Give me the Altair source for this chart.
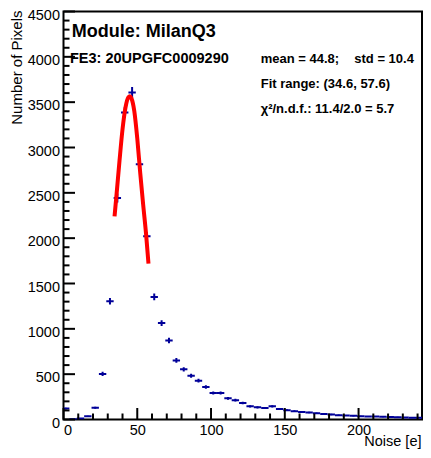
import altair as alt
import pandas as pd
import numpy as np

# ---- data ----
bin_centers = [1.5, 6.5, 11.5, 16.5, 21.5, 26.5, 31.5, 36.5, 41.5, 46.5,
               51.5, 56.5, 61.5, 66.5, 71.5, 76.5, 81.5, 86.5, 91.5, 96.5,
               101.5, 106.5, 111.5, 116.5, 121.5, 126.5, 131.5, 136.5, 141.5, 146.5,
               151.5, 156.5, 161.5, 166.5, 171.5, 176.5, 181.5, 186.5, 191.5, 196.5,
               201.5, 206.5, 211.5, 216.5, 221.5, 226.5, 231.5, 236.5, 241.5]
counts = [120, 3, 11, 36, 130, 503, 1305, 2444, 3386, 3606,
          2816, 2020, 1352, 1063, 871, 652, 553, 483, 428, 358,
          292, 292, 233, 213, 182, 145, 134, 127, 145, 117,
          103, 92, 84, 77, 69, 62, 55, 47, 44, 40,
          36, 33, 32, 29, 28, 25, 22, 20, 20]
bin_half_width = 2.5

fit_x = [34.6, 36, 38, 40, 42, 44, 45, 46, 48, 50, 52, 54, 56, 57.6]
fit_y = [2240, 2490, 2860, 3200, 3440, 3555, 3565, 3545, 3400, 3100, 2720, 2370, 2040, 1720]

x_major = [0, 50, 100, 150, 200]
x_minor = [10, 20, 30, 40, 60, 70, 80, 90, 110, 120, 130, 140, 160, 170, 180, 190,
           210, 220, 230, 240]
y_major = [0, 500, 1000, 1500, 2000, 2500, 3000, 3500, 4000, 4500]
y_minor = [100, 200, 300, 400, 600, 700, 800, 900, 1100, 1200, 1300, 1400,
           1600, 1700, 1800, 1900, 2100, 2200, 2300, 2400, 2600, 2700, 2800, 2900,
           3100, 3200, 3300, 3400, 3600, 3700, 3800, 3900, 4100, 4200, 4300, 4400]

X_DOMAIN = [0, 243]
Y_DOMAIN = [0, 4500]

W, H = 358.5, 408
FONT = "Liberation Sans"
BLUE = "#000099"

df = pd.DataFrame({"x": bin_centers, "n": counts})
df["xlo"] = np.maximum(df["x"] - bin_half_width, X_DOMAIN[0])
df["xhi"] = np.minimum(df["x"] + bin_half_width, X_DOMAIN[1])
err = np.sqrt(df["n"])
df["lo"] = df["n"] - err
df["hi"] = df["n"] + err

xs = alt.Scale(domain=X_DOMAIN, nice=False, zero=False)
ys = alt.Scale(domain=Y_DOMAIN, nice=False, zero=False)

# base layer carrying the axes (labels only; ticks drawn inward below)
base = alt.Chart(df).mark_rule(color=BLUE, strokeWidth=2, clip=True).encode(
    x=alt.X("xlo:Q", scale=xs,
            axis=alt.Axis(values=x_major, ticks=False, domain=False, grid=False,
                          labelFont=FONT, labelFontSize=14.5, labelColor="black",
                          labelPadding=4, title=None, format="d")),
    x2="xhi:Q",
    y=alt.Y("n:Q", scale=ys,
            axis=alt.Axis(values=y_major, ticks=False, domain=False, grid=False,
                          labelFont=FONT, labelFontSize=14.5, labelColor="black",
                          labelPadding=4, labelOffset=3.5, title=None, format="d")),
)

vbars = alt.Chart(df).mark_rule(color=BLUE, strokeWidth=2, clip=True).encode(
    x=alt.X("x:Q", scale=xs, axis=None),
    y=alt.Y("lo:Q", scale=ys, axis=None),
    y2="hi:Q",
)

fit = alt.Chart(pd.DataFrame({"x": fit_x, "y": fit_y})).mark_line(
    color="#ff0000", strokeWidth=4, strokeCap="butt", interpolate="monotone"
).encode(
    x=alt.X("x:Q", scale=xs, axis=None),
    y=alt.Y("y:Q", scale=ys, axis=None),
)

def xticks(vals, length):
    return alt.Chart(pd.DataFrame({"t": vals})).mark_rule(color="black", strokeWidth=2).encode(
        x=alt.X("t:Q", scale=xs, axis=None),
        y=alt.value(H),
        y2=alt.value(H - length),
    )

def yticks(vals, length):
    return alt.Chart(pd.DataFrame({"t": vals})).mark_rule(color="black", strokeWidth=2).encode(
        y=alt.Y("t:Q", scale=ys, axis=None),
        x=alt.value(0),
        x2=alt.value(length),
    )

def label(txt, px, py, size, bold=False, align="left", angle=0):
    kw = dict(font=FONT, fontSize=size, fontWeight="bold" if bold else "normal",
              color="black", align=align, baseline="alphabetic")
    if angle:
        kw["angle"] = angle
    return alt.Chart(pd.DataFrame({"t": [txt]})).mark_text(**kw).encode(
        x=alt.value(px), y=alt.value(py), text="t:N")

texts = [
    label("Module: MilanQ3", 8.2, 25.8, 18, bold=True),
    label("FE3: 20UPGFC0009290", 6.5, 51.8, 14.5, bold=True),
    label("mean = 44.8;", 197.2, 51.2, 13, bold=True),
    label("std = 10.4", 290.8, 51.2, 13, bold=True),
    label("Fit range: (34.6, 57.6)", 197.2, 76.8, 13, bold=True),
    label("\u03c7\u00b2/n.d.f.: 11.4/2.0 = 5.7", 197.2, 101.2, 13, bold=True),
    label("Noise [e]", 358, 434.5, 14.5, align="right"),
    label("Number of Pixels", -41.8, -1.0, 15, align="right", angle=270),
]

chart = alt.layer(
    base, vbars, fit,
    xticks(x_major, 11.5), xticks(x_minor, 6),
    yticks(y_major, 11.5), yticks(y_minor, 6),
    *texts,
).resolve_axis(
    x="independent", y="independent"
).properties(
    width=W, height=H,
    autosize=alt.AutoSizeParams(type="none"),
    padding={"left": 55.5, "top": 3.5, "right": 1, "bottom": 29.5},
    background="white",
).configure_view(
    stroke="black", strokeWidth=2
)

chart.save("out.html", embed_options={"renderer": "svg", "actions": False})
